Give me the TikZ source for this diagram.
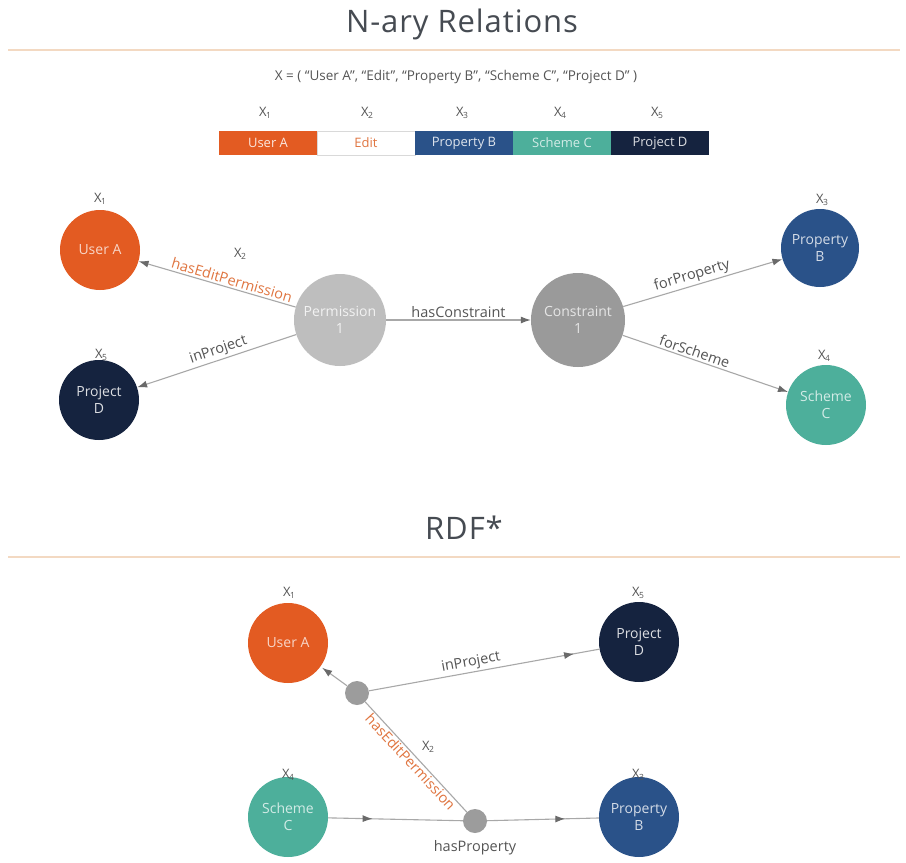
\documentclass[tikz,border=0pt]{standalone}
\usepackage{fontspec}
\setmainfont{Open Sans}
\newfontfamily\titlefont{Open Sans}[LetterSpace=3]
\usetikzlibrary{arrows.meta,decorations.markings}
\definecolor{cOrange}{HTML}{E35B22}
\definecolor{cBlue}{HTML}{2A5289}
\definecolor{cTeal}{HTML}{4DAF9B}
\definecolor{cNavy}{HTML}{15233F}
\definecolor{cPerm}{HTML}{BEBEBE}
\definecolor{cCons}{HTML}{9A9A9A}
\definecolor{cDot}{HTML}{9C9C9C}
\definecolor{cRule}{HTML}{F3D9C2}
\definecolor{cEdge}{HTML}{A8A8A8}
\definecolor{cArrow}{HTML}{6A6A6A}
\definecolor{cText}{HTML}{555555}
\definecolor{cTitle}{HTML}{464B52}
\definecolor{cLabOr}{HTML}{E07540}
\newcommand\xsub[1]{X\kern-0.5pt\raisebox{-0.25ex}{\fontsize{8.5}{9}\selectfont #1}}
\begin{document}
\begin{tikzpicture}[x=1pt,y=-1pt,
  title/.style={font=\titlefont\fontsize{31}{36}\selectfont, text=cTitle, inner sep=0},
  rule/.style={draw=cRule, line width=1.6pt},
  xlab/.style={font=\fontsize{13}{15}\selectfont, text=cText, inner sep=1pt},
  cell/.style={minimum width=98, minimum height=24, inner sep=0, font=\fontsize{13}{15}\selectfont},
  big/.style={circle, minimum size=80, inner sep=0, align=center, font=\fontsize{14}{17}\selectfont},
  dotn/.style={circle, fill=cDot, minimum size=24, inner sep=0},
  tip/.style={-{Latex[length=10pt,width=7pt,color=cArrow]}},
  edge/.style={draw=cEdge, line width=1.1pt},
  elab/.style={font=\fontsize{14.5}{16}\selectfont, text=cText, sloped, inner sep=2pt},
  midarrow/.style={postaction={decorate}, decoration={markings, mark=at position #1 with {\arrow{Latex[length=10pt,width=7pt,color=cArrow]}}}}
]
\useasboundingbox (0,0) rectangle (906,863);
\fill[white] (0,0) rectangle (906,863);

% ---- N-ary section ----
\node[title] (t1) at (462,24) {N-ary Relations};
\coordinate (r1a) at (8,50);
\coordinate (r1b) at (900,50);
\draw[rule] (r1a) -- (r1b);

\node[xlab, font=\fontsize{13.5}{15}\selectfont] (eq) at (456,77) {X = ( “User A”, “Edit”, “Property B”, “Scheme C”, “Project D” )};

\node[cell, fill=cOrange, text=white!85!cOrange] (b1) at (268,143) {User A};
\node[cell, fill=white, draw=black!15, text=cLabOr] (b2) at (366,143) {Edit};
\node[cell, fill=cBlue, text=white!85!cBlue] (b3) at (464,143) {Property B};
\node[cell, fill=cTeal, text=white!75!cTeal] (b4) at (562,143) {Scheme C};
\node[cell, fill=cNavy, text=white!85!cNavy] (b5) at (660,143) {Project D};
\node[xlab] (bx1) at (265,113) {\xsub{1}};
\node[xlab] (bx2) at (367,113) {\xsub{2}};
\node[xlab] (bx3) at (462,113) {\xsub{3}};
\node[xlab] (bx4) at (560,113) {\xsub{4}};
\node[xlab] (bx5) at (657,113) {\xsub{5}};

\node[big, fill=cOrange, text=white!75!cOrange] (ua) at (100,250) {User A};
\node[big, fill=cNavy, text=white!85!cNavy] (pd) at (99,400) {Project\\D};
\node[big, fill=cPerm, minimum size=92, text=white!80!cPerm] (perm) at (340,320) {Permission\\1};
\node[big, fill=cCons, minimum size=94, text=white!75!cCons] (cons) at (578,320) {Constraint\\1};
\node[big, fill=cBlue, minimum size=78, text=white!80!cBlue] (pb) at (820,248) {Property\\B};
\node[big, fill=cTeal, text=white!75!cTeal] (sc) at (826,405) {Scheme\\C};
\node[xlab] (ux1) at (100,199) {\xsub{1}};
\node[xlab] (ux5) at (101,355) {\xsub{5}};
\node[xlab] (ux3) at (822,200) {\xsub{3}};
\node[xlab] (ux4) at (824,356) {\xsub{4}};
\node[xlab] (ux2) at (240,254) {\xsub{2}};

\draw[edge, tip] (perm) -- (ua) node[elab, pos=0.42, above, text=cLabOr] {hasEditPermission};
\draw[edge, tip] (perm) -- (pd) node[elab, pos=0.47, above] {inProject};
\draw[edge, tip] (perm) -- (cons) node[elab, pos=0.5, above] {hasConstraint};
\draw[edge, tip] (cons) -- (pb) node[elab, pos=0.45, above] {forProperty};
\draw[edge, tip] (cons) -- (sc) node[elab, pos=0.42, above] {forScheme};

% ---- RDF* section ----
\node[title] (t2) at (464,528) {RDF*};
\coordinate (r2a) at (8,557);
\coordinate (r2b) at (900,557);
\draw[rule] (r2a) -- (r2b);

\node[big, fill=cOrange, text=white!75!cOrange] (ua2) at (288,643) {User A};
\node[big, fill=cNavy, text=white!85!cNavy] (pd2) at (639,642) {Project\\D};
\node[big, fill=cTeal, text=white!75!cTeal] (sc2) at (288,817) {Scheme\\C};
\node[big, fill=cBlue, text=white!80!cBlue] (pb2) at (639,817) {Property\\B};
\node[xlab] (vx1) at (289,593) {\xsub{1}};
\node[xlab] (vx5) at (638,593) {\xsub{5}};
\node[xlab] (vx4) at (288,775) {\xsub{4}};
\node[xlab] (vx3) at (638,775) {\xsub{3}};
\node[xlab] (vx2) at (428,747) {\xsub{2}};

\node[dotn] (d1) at (357,693) {};
\node[dotn] (d2) at (475,821) {};

\draw[edge, tip, shorten >=2pt] (d1) -- (ua2);
\draw[edge, midarrow=0.89] (d1) -- (pd2) node[elab, pos=0.45, above] {inProject};
\draw[edge] (d1) -- (d2) node[elab, pos=0.5, below, inner sep=1pt, text=cLabOr] {hasEditPermission};
\draw[edge, midarrow=0.33] (sc2) -- (d2);
\draw[edge, midarrow=0.7] (d2) -- (pb2);
\node[xlab, font=\fontsize{14.5}{16}\selectfont] (hp) at (475,848) {hasProperty};
\end{tikzpicture}
\end{document}
